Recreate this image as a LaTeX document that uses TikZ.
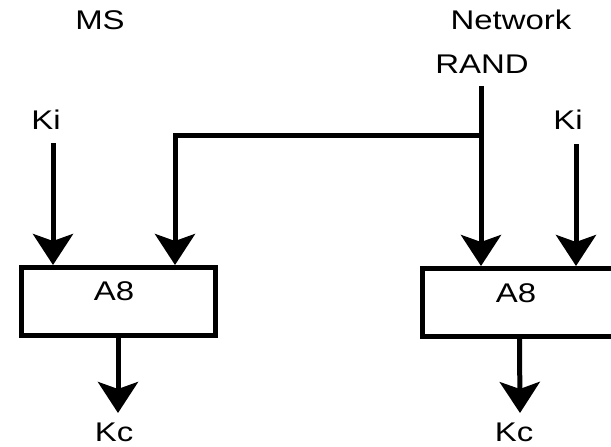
\documentclass[tikz,border=0pt]{standalone}
\usepackage{fontspec}
\setmainfont{Liberation Sans}[FakeStretch=1.22]
\usetikzlibrary{arrows.meta}
\begin{document}
\begin{tikzpicture}[x=1pt,y=-1pt,
  lbl/.style={anchor=base,inner sep=0pt,font=\fontsize{27}{32}\selectfont},
  algbox/.style={draw,line width=5pt,minimum width=194pt,minimum height=68pt,inner sep=0pt},
  flow/.style={line width=5pt,miter limit=10,-{Stealth[length=31pt,width=40pt,inset=7pt]}}]
\useasboundingbox (0,0) rectangle (611,447);
\clip (0,0) rectangle (611,447);

% column headings
\node[lbl] (ms) at (100,29) {MS};
\node[lbl] (net) at (511,29) {Network};
\node[lbl] (rand) at (482,73.5) {RAND};

% key inputs
\node[lbl] (kiL) at (46,129) {Ki};
\node[lbl] (kiR) at (568,129) {Ki};

% the two A8 blocks
\node[algbox] (boxL) at (118,301.5) {};
\node[algbox] (boxR) at (519.5,302.5) {};
\node[lbl] (a8L) at (114,300) {A8};
\node[lbl] (a8R) at (516,302) {A8};

% outputs
\node[lbl] (kcL) at (114,441.5) {Kc};
\node[lbl] (kcR) at (514,441.5) {Kc};

% line start points
\coordinate (kiLs) at (53,143);
\coordinate (kiRs) at (576,144);
\coordinate (rands) at (481,86);
\coordinate (split) at (481,135);
\coordinate (kcLe) at (118,413);
\coordinate (kcRe) at (520,413);

% inputs into the blocks
\draw[flow] (kiLs) -- (kiLs |- boxL.north);
\draw[flow] (kiRs) -- (kiRs |- boxR.north);
\draw[flow] (rands) -- (rands |- boxR.north);
\draw[flow] (split) -| (175,0 |- boxL.north);

% outputs from the blocks
\draw[flow] (boxL.south) -- (kcLe);
\draw[flow] (boxR.south) -- (kcRe);
\end{tikzpicture}
\end{document}
